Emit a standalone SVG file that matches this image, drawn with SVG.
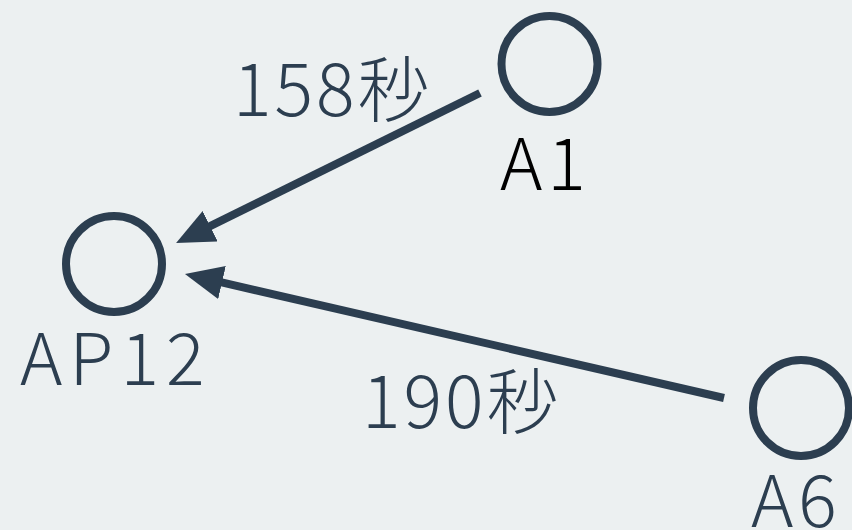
<svg xmlns="http://www.w3.org/2000/svg" width="852" height="530" viewBox="0 0 852 530">
  <style>
    .node { fill: none; stroke: #2c3e50; stroke-width: 8; }
    .label { font-family: "Noto Sans CJK JP", "Noto Sans", sans-serif; font-weight: 300; font-size: 72px; letter-spacing: 5px; fill: #2c3e50; }
    .edge { stroke: #2c3e50; stroke-width: 8; fill: none; }
    .edge-label { font-family: "Noto Sans CJK JP", "Noto Sans", sans-serif; font-weight: 300; font-size: 72px; letter-spacing: 3px; fill: #2c3e50; }
  </style>
  <defs>
    <marker id="arrow" markerUnits="userSpaceOnUse" markerWidth="40" markerHeight="36" refX="8" refY="17" orient="auto" viewBox="0 0 40 36">
      <path d="M0,0 L38,17 L0,34 z" fill="#2c3e50"/>
    </marker>
  </defs>
  <rect width="852" height="530" fill="#ecf0f1"/>

  <g id="connectors">
    <line class="edge" x1="480" y1="93" x2="203" y2="229.7" marker-end="url(#arrow)"/>
    <text class="edge-label" x="233" y="116">158秒</text>
    <line class="edge" x1="724" y1="398" x2="214.2" y2="280.7" marker-end="url(#arrow)"/>
    <text class="edge-label" x="362" y="428">190秒</text>
  </g>

  <g id="node-A1">
    <circle class="node" cx="549.5" cy="64" r="48"/>
    <text class="label" x="500" y="190" style="fill:#000">A1</text>
  </g>

  <g id="node-AP12">
    <circle class="node" cx="114" cy="264" r="48"/>
    <text class="label" x="20" y="385" style="letter-spacing:7px">AP12</text>
  </g>

  <g id="node-A6">
    <circle class="node" cx="801" cy="408" r="48"/>
    <text class="label" x="751" y="527">A6</text>
  </g>
</svg>
